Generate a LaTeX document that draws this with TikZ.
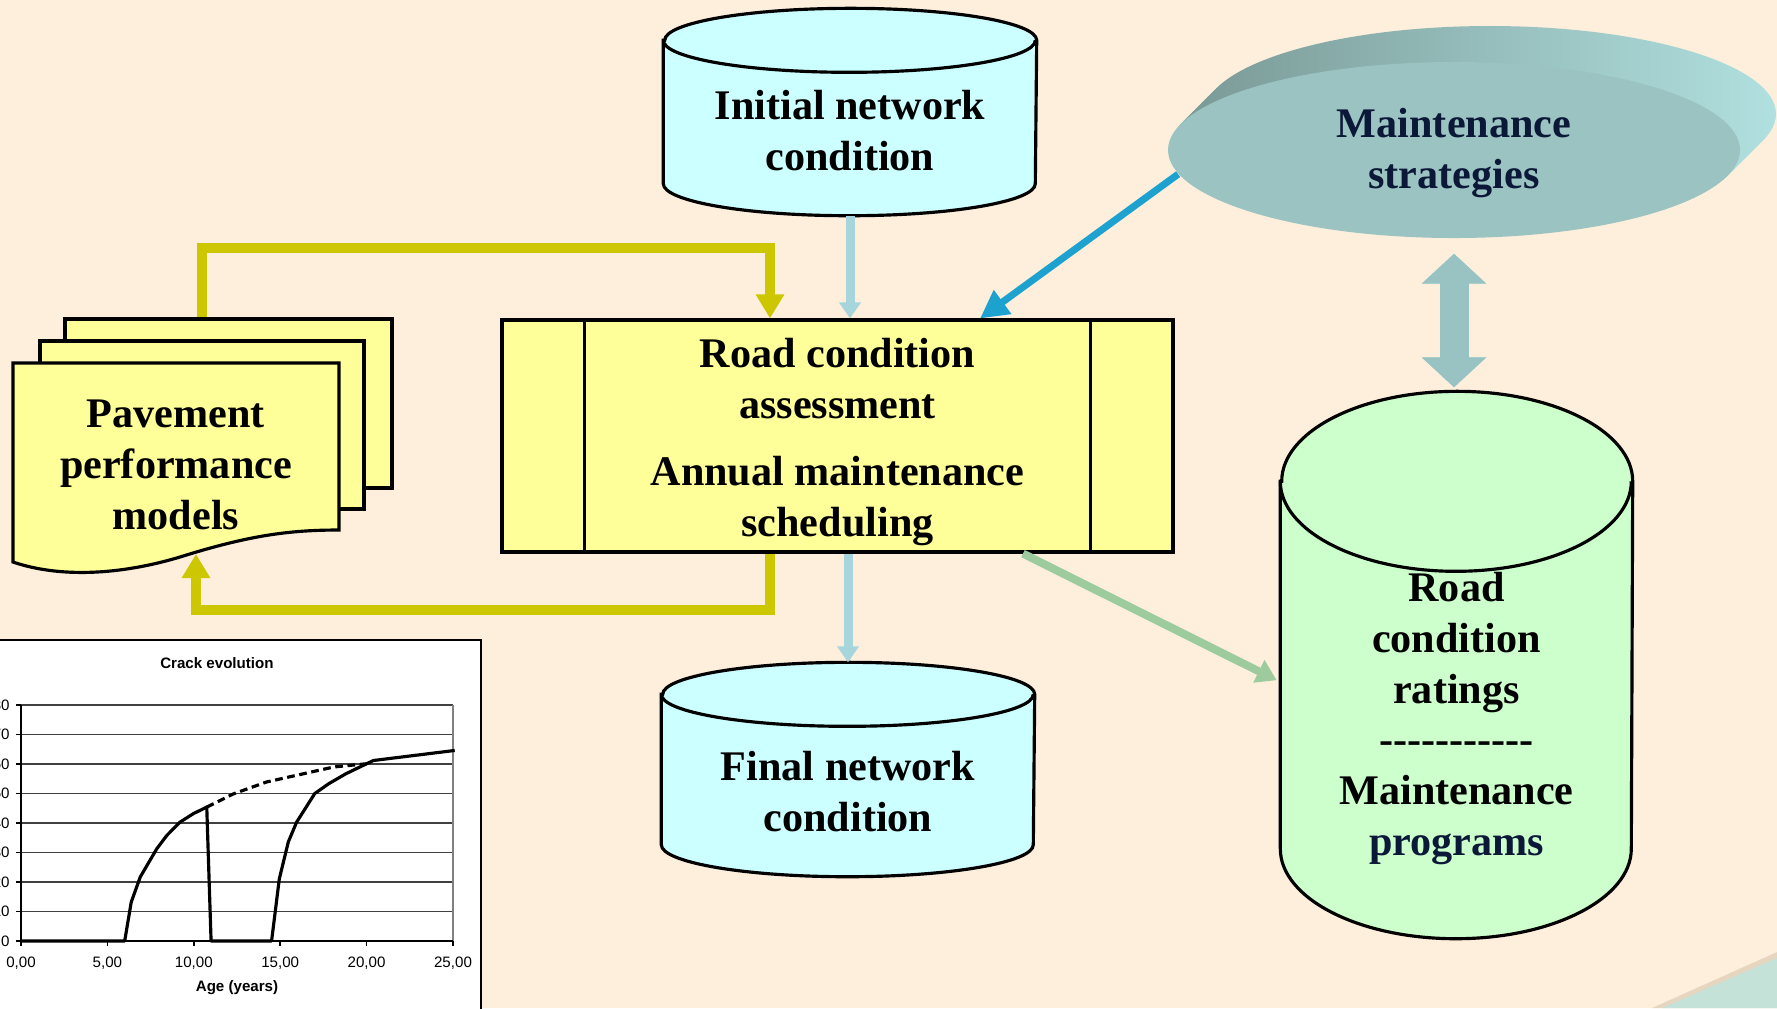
\documentclass[tikz,border=0pt]{standalone}
\usepackage{fontspec}
\setmainfont{Liberation Serif}
\newfontfamily\chartfont{Liberation Sans}
\usetikzlibrary{arrows.meta, calc, positioning, shapes.geometric}

\definecolor{bgcream}{HTML}{FDEFDC}
\definecolor{cylblue}{HTML}{CCFFFF}
\definecolor{cylgreen}{HTML}{CCFFCC}
\definecolor{taskyellow}{HTML}{FFFF99}
\definecolor{msface}{HTML}{9BC3C1}
\definecolor{msrimdark}{HTML}{7C9C99}
\definecolor{msrimlight}{HTML}{B0E0DF}
\definecolor{msnavy}{HTML}{0B1837}
\definecolor{dblteal}{HTML}{99C3C3}
\definecolor{loopyellow}{HTML}{CCC700}
\definecolor{flowblue}{HTML}{A6D6DB}
\definecolor{stratblue}{HTML}{1DA2D0}
\definecolor{resgreen}{HTML}{9ECB9E}
\definecolor{cornerteal}{HTML}{C4E2D7}
\definecolor{cornershade}{HTML}{E6D6C0}

% Datenbank-Zylinder um einen leeren Knoten: Name, Farbe, Deckelradius, halbe Breite
\newcommand{\drawdb}[4]{%
  \draw[line width=0.9pt, fill=#2] ([yshift=-#3]#1.north west) -- ([yshift=#3]#1.south west)
    arc[start angle=180, end angle=360, x radius=#4, y radius=#3]
    -- ([yshift=-#3]#1.north east)
    arc[start angle=0, end angle=180, x radius=#4, y radius=#3] -- cycle;
  \draw[line width=0.9pt] ([yshift=-#3]#1.north west)
    arc[start angle=180, end angle=360, x radius=#4, y radius=#3];
}

\begin{document}
\begin{tikzpicture}[x=0.1mm, y=-0.1mm,
    lbl/.style={font=\bfseries\fontsize{12}{14.5}\selectfont, align=center, inner sep=0pt},
    dbbox/.style={inner sep=0pt},
    page/.style={draw=black, line width=0.9pt, fill=taskyellow, inner sep=0pt},
    loopar/.style={draw=loopyellow, line width=1mm, -{Triangle[length=2.4mm, width=2.7mm]}},
    flowar/.style={draw=flowblue, line width=0.9mm, -{Triangle[length=1.6mm, width=2.1mm]}},
    stratar/.style={draw=stratblue, line width=0.7mm, -{Triangle[length=2.8mm, width=2.8mm]}},
    resar/.style={draw=resgreen, line width=0.8mm, -{Triangle[length=2mm, width=2.4mm]}},
    dblar/.style={line width=2.9mm, {Triangle[length=3mm, width=6.3mm]}-{Triangle[length=3mm, width=6.3mm]}},
    gridline/.style={black!75, line width=0.35pt},
    crack/.style={line width=0.9pt, line join=round}
]

% Hintergrund
\useasboundingbox (0,0) rectangle (1777,1008);
\fill[bgcream] (0,0) rectangle (1777,1008);
\fill[cornershade] (1652,1008) -- (1777,952) -- (1777,1008) -- cycle;
\fill[cornerteal] (1662,1008) -- (1777,958) -- (1777,1008) -- cycle;

% Datenbanken
\node[dbbox, minimum width=37.2mm, minimum height=20.6mm] (init) at (850,112) {};
\drawdb{init}{cylblue}{3.2mm}{18.6mm}
\node[lbl] (initlbl) at ([yshift=-1.9mm]init.center) {Initial network\\condition};

\node[dbbox, minimum width=37.2mm, minimum height=21.3mm] (final) at (848,769.5) {};
\drawdb{final}{cylblue}{3.2mm}{18.6mm}
\node[lbl] (finallbl) at ([yshift=-2.2mm]final.center) {Final network\\condition};

\node[dbbox, minimum width=35.1mm, minimum height=54.6mm] (db) at (1456.5,665) {};
\drawdb{db}{cylgreen}{9mm}{17.55mm}
\node[lbl] (dblbl) at ([yshift=-5.35mm]db.center)
  {Road\\condition\\ratings\\-{}-{}-{}-{}-{}-{}-{}-{}-{}-{}-\\Maintenance\\\textcolor{msnavy}{programs}};

% Strategien als Scheibe
\foreach \k in {1,...,12}
  \shade[left color=msrimdark, right color=msrimlight] (1454+3*\k,150-3*\k) ellipse [x radius=28.6mm, y radius=8.8mm];
\node[ellipse, fill=msface, minimum width=57.2mm, minimum height=17.6mm, inner sep=0pt] (ms) at (1454,150) {};
\node[lbl, text=msnavy] (mslbl) at ([yshift=-0.3mm]ms.center) {Maintenance\\strategies};

% Hauptprozess
\node[draw=black, line width=0.9pt, fill=taskyellow, minimum width=67.1mm, minimum height=23.2mm, inner sep=0pt] (task) at (837.5,436) {};
\draw[line width=0.9pt] ([xshift=8.4mm]task.north west) -- ([xshift=8.4mm]task.south west);
\draw[line width=0.9pt] ([xshift=-8.4mm]task.north east) -- ([xshift=-8.4mm]task.south east);
\node[lbl] (tasklbl) at ([yshift=-0.6mm]task.center)
  {Road condition\\assessment\\[4.5pt]Annual maintenance\\scheduling};

% Dokumentstapel
\node[page, minimum width=32.7mm, minimum height=16.9mm] (page3) at (228.5,403.5) {};
\node[page, minimum width=32.4mm, minimum height=16.8mm] (page2) at (202,425) {};
\draw[page] (13,363) -- (339,363) -- (339,530) .. controls (290,530) and (250,535) .. (180,557)
  .. controls (120,575) and (60,578) .. (13,562) -- cycle;
\node[lbl] (ppm) at (176,465) {Pavement\\performance\\models};

% Rueckkopplung
\coordinate (ta) at (202,248);
\coordinate (tb) at (770,248);
\coordinate (ba) at (196,610);
\coordinate (bb) at (770,610);
\coordinate (ppmwave) at (196,554);
\draw[loopar] (ta |- page3.north) -- (ta) -- (tb) -- (tb |- task.north);
\draw[loopar] (bb |- task.south) -- (bb) -- (ba) -- (ppmwave);

% Verbindungen
\draw[flowar] (init.south) -- (init.south |- task.north);
\draw[flowar] (final.north |- task.south) -- (final.north);
\draw[stratar] (ms.185.5) -- ([xshift=14.25mm]task.north);
\draw[resar, shorten >=0.4mm] ([xshift=18.55mm]task.south) -- ([yshift=-1.7mm]db.west);
\draw[dblar, msrimlight, xshift=0.4mm, shorten <=1.5mm, shorten >=0.4mm] (ms.south) -- (ms.south |- db.north);
\draw[dblar, dblteal, shorten <=1.5mm, shorten >=0.4mm] (ms.south) -- (ms.south |- db.north);

% Diagramm
\fill[white, draw=black, line width=0.5pt] (-50,640) rectangle (481,1100);
\begin{scope}[shift={(21,941)}, x=1.728mm, y=0.295mm, font=\chartfont\fontsize{4.3}{5}\selectfont]
  \foreach \v in {10,20,...,80}
    \draw[gridline] (0,\v) -- (25,\v);
  \draw[gray, line width=0.4pt] (25,0) -- (25,80);
  \draw[line width=0.5pt] (0,80) -- (0,0) -- (25,0);
  \foreach \v in {0,10,...,80} {
    \draw[line width=0.4pt] (-0.3,\v) -- (0,\v);
    \node[anchor=east, inner sep=0pt] (yl\v) at (-0.62,\v) {\v};
  }
  \foreach \t in {0,5,...,25} {
    \draw[line width=0.4pt] (\t,0) -- (\t,-1.7);
    \node[inner sep=0pt] (xl\t) at (\t,-7.5) {\t,00};
  }
  \node[inner sep=0pt, font=\chartfont\bfseries\fontsize{4.3}{5}\selectfont] (xtitle) at (12.5,-15.8) {Age (years)};
  \node[inner sep=0pt, font=\chartfont\bfseries\fontsize{4.3}{5}\selectfont] (ctitle) at (11.34,94.2) {Crack evolution};
  \draw[crack] (0,0) -- (6.0,0) -- (6.38,13.2) -- (6.9,21.7) -- (7.86,31.3) -- (8.44,35.8) -- (9.2,40.3)
    -- (9.98,43.2) -- (10.75,45.4) -- (11.0,0) -- (14.5,0) -- (14.95,21.1) -- (15.47,33.6) -- (15.95,40.3)
    -- (17.0,50) -- (17.8,53.3) -- (18.8,56.7) -- (20.0,60.1) -- (20.4,61.2) -- (25.1,64.6);
  \draw[crack, dash pattern=on 2.2pt off 1.3pt] (10.75,45.4) -- (12.3,49.9) -- (14.2,53.9) -- (18.1,59.0) -- (20.0,60.1);
\end{scope}

\end{tikzpicture}
\end{document}
